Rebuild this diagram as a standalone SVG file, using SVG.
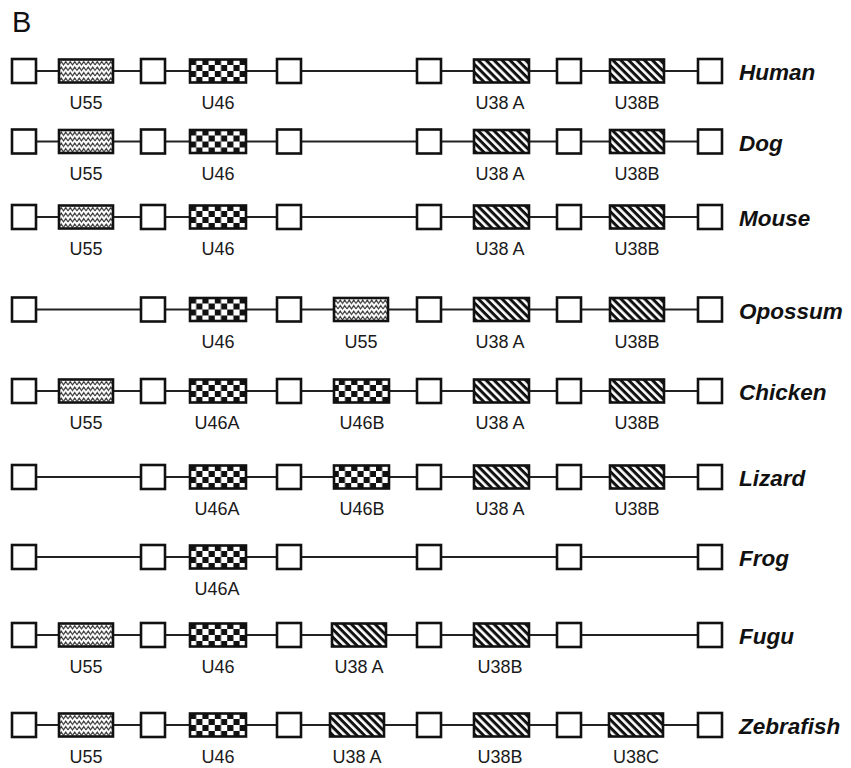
<svg xmlns="http://www.w3.org/2000/svg" xmlns:xlink="http://www.w3.org/1999/xlink" width="851" height="768" viewBox="0 0 851 768">
<style>
.bg{fill:#fff}
.sq{fill:#fff;stroke:#111;stroke-width:2.6}
.gene{stroke:#111;stroke-width:2.6}
.wavy{fill:url(#pWavy)}
.chk{fill:url(#pChk)}
.hat{fill:url(#pHat)}
.ln{stroke:#222;stroke-width:2;fill:none}
.lbl{font-family:"Liberation Sans",Arial,sans-serif;font-size:18px;fill:#1a1a1a;text-anchor:middle}
.sp{font-family:"Liberation Sans",Arial,sans-serif;font-size:22.5px;font-weight:bold;font-style:italic;fill:#111}
.title{font-family:"Liberation Sans",Arial,sans-serif;font-size:29px;fill:#111}
</style>
<defs>
<pattern id="pWavy" patternUnits="userSpaceOnUse" x="59" y="0.5" width="9" height="5.5">
<rect width="9" height="5.5" fill="#fff"/>
<path d="M0,4.5 L2.25,1 L4.5,4.5 L6.75,1 L9,4.5" fill="none" stroke="#333" stroke-width="1.1"/>
</pattern>
<pattern id="pChk" patternUnits="userSpaceOnUse" width="12.4" height="12" x="190" y="0">
<rect width="12.4" height="12" fill="#fff"/>
<rect width="6.2" height="6" fill="#111"/>
<rect x="6.2" y="6" width="6.2" height="6" fill="#111"/>
</pattern>
<pattern id="pHat" patternUnits="userSpaceOnUse" width="5.6" height="5.6" patternTransform="rotate(45)">
<rect width="5.6" height="5.6" fill="#fff"/>
<rect width="5.6" height="3" fill="#111"/>
</pattern>
<rect id="box" class="sq" x="-12" y="-12" width="24" height="24"/>
</defs>
<rect class="bg" width="851" height="768"/>
<text class="title" x="12" y="32">B</text>

<g id="connectors">
<line class="ln" x1="24" y1="71" x2="710" y2="71"/>
<line class="ln" x1="24" y1="141.5" x2="710" y2="141.5"/>
<line class="ln" x1="24" y1="217" x2="710" y2="217"/>
<line class="ln" x1="24" y1="309.5" x2="710" y2="309.5"/>
<line class="ln" x1="24" y1="391" x2="710" y2="391"/>
<line class="ln" x1="24" y1="477" x2="710" y2="477"/>
<line class="ln" x1="24" y1="557" x2="710" y2="557"/>
<line class="ln" x1="24" y1="635" x2="710" y2="635"/>
<line class="ln" x1="24" y1="725" x2="710" y2="725"/>
</g>

<!-- Human -->
<g id="human" transform="translate(0,71)">
<g id="human-exons"><use xlink:href="#box" x="24"/><use xlink:href="#box" x="153"/><use xlink:href="#box" x="289"/><use xlink:href="#box" x="429"/><use xlink:href="#box" x="569"/><use xlink:href="#box" x="710"/></g>
<g id="human-u55"><rect class="gene wavy" x="59" y="-11.5" width="54" height="23"/><text class="lbl" x="86" y="38">U55</text></g>
<g id="human-u46"><rect class="gene chk" x="190" y="-11.5" width="56" height="23"/><text class="lbl" x="218" y="38">U46</text></g>
<g id="human-u38a"><rect class="gene hat" x="474" y="-11.5" width="55" height="23"/><text class="lbl" x="500" y="38">U38 A</text></g>
<g id="human-u38b"><rect class="gene hat" x="610" y="-11.5" width="54" height="23"/><text class="lbl" x="637" y="38">U38B</text></g>
<text class="sp" x="739" y="9">Human</text>
</g>

<!-- Dog -->
<g id="dog" transform="translate(0,141.5)">
<g id="dog-exons"><use xlink:href="#box" x="24"/><use xlink:href="#box" x="153"/><use xlink:href="#box" x="289"/><use xlink:href="#box" x="429"/><use xlink:href="#box" x="569"/><use xlink:href="#box" x="710"/></g>
<g id="dog-u55"><rect class="gene wavy" x="59" y="-11.5" width="54" height="23"/><text class="lbl" x="86" y="38">U55</text></g>
<g id="dog-u46"><rect class="gene chk" x="190" y="-11.5" width="56" height="23"/><text class="lbl" x="218" y="38">U46</text></g>
<g id="dog-u38a"><rect class="gene hat" x="474" y="-11.5" width="55" height="23"/><text class="lbl" x="500" y="38">U38 A</text></g>
<g id="dog-u38b"><rect class="gene hat" x="610" y="-11.5" width="54" height="23"/><text class="lbl" x="637" y="38">U38B</text></g>
<text class="sp" x="739" y="9">Dog</text>
</g>

<!-- Mouse -->
<g id="mouse" transform="translate(0,217)">
<g id="mouse-exons"><use xlink:href="#box" x="24"/><use xlink:href="#box" x="153"/><use xlink:href="#box" x="289"/><use xlink:href="#box" x="429"/><use xlink:href="#box" x="569"/><use xlink:href="#box" x="710"/></g>
<g id="mouse-u55"><rect class="gene wavy" x="59" y="-11.5" width="54" height="23"/><text class="lbl" x="86" y="38">U55</text></g>
<g id="mouse-u46"><rect class="gene chk" x="190" y="-11.5" width="56" height="23"/><text class="lbl" x="218" y="38">U46</text></g>
<g id="mouse-u38a"><rect class="gene hat" x="474" y="-11.5" width="55" height="23"/><text class="lbl" x="500" y="38">U38 A</text></g>
<g id="mouse-u38b"><rect class="gene hat" x="610" y="-11.5" width="54" height="23"/><text class="lbl" x="637" y="38">U38B</text></g>
<text class="sp" x="739" y="9">Mouse</text>
</g>

<!-- Opossum -->
<g id="opossum" transform="translate(0,309.5)">
<g id="opossum-exons"><use xlink:href="#box" x="24"/><use xlink:href="#box" x="153"/><use xlink:href="#box" x="289"/><use xlink:href="#box" x="429"/><use xlink:href="#box" x="569"/><use xlink:href="#box" x="710"/></g>
<g id="opossum-u46"><rect class="gene chk" x="190" y="-11.5" width="56" height="23"/><text class="lbl" x="218" y="38">U46</text></g>
<g id="opossum-u55"><rect class="gene wavy" x="334" y="-11.5" width="54" height="23"/><text class="lbl" x="361" y="38">U55</text></g>
<g id="opossum-u38a"><rect class="gene hat" x="474" y="-11.5" width="55" height="23"/><text class="lbl" x="500" y="38">U38 A</text></g>
<g id="opossum-u38b"><rect class="gene hat" x="610" y="-11.5" width="54" height="23"/><text class="lbl" x="637" y="38">U38B</text></g>
<text class="sp" x="739" y="9">Opossum</text>
</g>

<!-- Chicken -->
<g id="chicken" transform="translate(0,391)">
<g id="chicken-exons"><use xlink:href="#box" x="24"/><use xlink:href="#box" x="153"/><use xlink:href="#box" x="289"/><use xlink:href="#box" x="429"/><use xlink:href="#box" x="569"/><use xlink:href="#box" x="710"/></g>
<g id="chicken-u55"><rect class="gene wavy" x="59" y="-11.5" width="54" height="23"/><text class="lbl" x="86" y="38">U55</text></g>
<g id="chicken-u46a"><rect class="gene chk" x="190" y="-11.5" width="56" height="23"/><text class="lbl" x="217" y="38">U46A</text></g>
<g id="chicken-u46b"><rect class="gene chk" x="334" y="-11.5" width="55" height="23"/><text class="lbl" x="362" y="38">U46B</text></g>
<g id="chicken-u38a"><rect class="gene hat" x="474" y="-11.5" width="55" height="23"/><text class="lbl" x="500" y="38">U38 A</text></g>
<g id="chicken-u38b"><rect class="gene hat" x="610" y="-11.5" width="54" height="23"/><text class="lbl" x="637" y="38">U38B</text></g>
<text class="sp" x="739" y="9">Chicken</text>
</g>

<!-- Lizard -->
<g id="lizard" transform="translate(0,477)">
<g id="lizard-exons"><use xlink:href="#box" x="24"/><use xlink:href="#box" x="153"/><use xlink:href="#box" x="289"/><use xlink:href="#box" x="429"/><use xlink:href="#box" x="569"/><use xlink:href="#box" x="710"/></g>
<g id="lizard-u46a"><rect class="gene chk" x="190" y="-11.5" width="56" height="23"/><text class="lbl" x="217" y="38">U46A</text></g>
<g id="lizard-u46b"><rect class="gene chk" x="334" y="-11.5" width="55" height="23"/><text class="lbl" x="362" y="38">U46B</text></g>
<g id="lizard-u38a"><rect class="gene hat" x="474" y="-11.5" width="55" height="23"/><text class="lbl" x="500" y="38">U38 A</text></g>
<g id="lizard-u38b"><rect class="gene hat" x="610" y="-11.5" width="54" height="23"/><text class="lbl" x="637" y="38">U38B</text></g>
<text class="sp" x="739" y="9">Lizard</text>
</g>

<!-- Frog -->
<g id="frog" transform="translate(0,557)">
<g id="frog-exons"><use xlink:href="#box" x="24"/><use xlink:href="#box" x="153"/><use xlink:href="#box" x="289"/><use xlink:href="#box" x="429"/><use xlink:href="#box" x="569"/><use xlink:href="#box" x="710"/></g>
<g id="frog-u46a"><rect class="gene chk" x="190" y="-11.5" width="56" height="23"/><text class="lbl" x="217" y="38">U46A</text></g>
<text class="sp" x="739" y="9">Frog</text>
</g>

<!-- Fugu -->
<g id="fugu" transform="translate(0,635)">
<g id="fugu-exons"><use xlink:href="#box" x="24"/><use xlink:href="#box" x="153"/><use xlink:href="#box" x="289"/><use xlink:href="#box" x="429"/><use xlink:href="#box" x="569"/><use xlink:href="#box" x="710"/></g>
<g id="fugu-u55"><rect class="gene wavy" x="59" y="-11.5" width="54" height="23"/><text class="lbl" x="86" y="38">U55</text></g>
<g id="fugu-u46"><rect class="gene chk" x="190" y="-11.5" width="56" height="23"/><text class="lbl" x="218" y="38">U46</text></g>
<g id="fugu-u38a"><rect class="gene hat" x="332" y="-11.5" width="54" height="23"/><text class="lbl" x="359" y="38">U38 A</text></g>
<g id="fugu-u38b"><rect class="gene hat" x="474" y="-11.5" width="55" height="23"/><text class="lbl" x="500" y="38">U38B</text></g>
<text class="sp" x="739" y="9">Fugu</text>
</g>

<!-- Zebrafish -->
<g id="zebrafish" transform="translate(0,725)">
<g id="zebrafish-exons"><use xlink:href="#box" x="24"/><use xlink:href="#box" x="153"/><use xlink:href="#box" x="289"/><use xlink:href="#box" x="429"/><use xlink:href="#box" x="569"/><use xlink:href="#box" x="710"/></g>
<g id="zebrafish-u55"><rect class="gene wavy" x="59" y="-11.5" width="54" height="23"/><text class="lbl" x="86" y="38">U55</text></g>
<g id="zebrafish-u46"><rect class="gene chk" x="190" y="-11.5" width="56" height="23"/><text class="lbl" x="218" y="38">U46</text></g>
<g id="zebrafish-u38a"><rect class="gene hat" x="330" y="-11.5" width="54" height="23"/><text class="lbl" x="357" y="38">U38 A</text></g>
<g id="zebrafish-u38b"><rect class="gene hat" x="474" y="-11.5" width="55" height="23"/><text class="lbl" x="500" y="38">U38B</text></g>
<g id="zebrafish-u38c"><rect class="gene hat" x="609" y="-11.5" width="54" height="23"/><text class="lbl" x="636" y="38">U38C</text></g>
<text class="sp" x="739" y="9">Zebrafish</text>
</g>
</svg>
